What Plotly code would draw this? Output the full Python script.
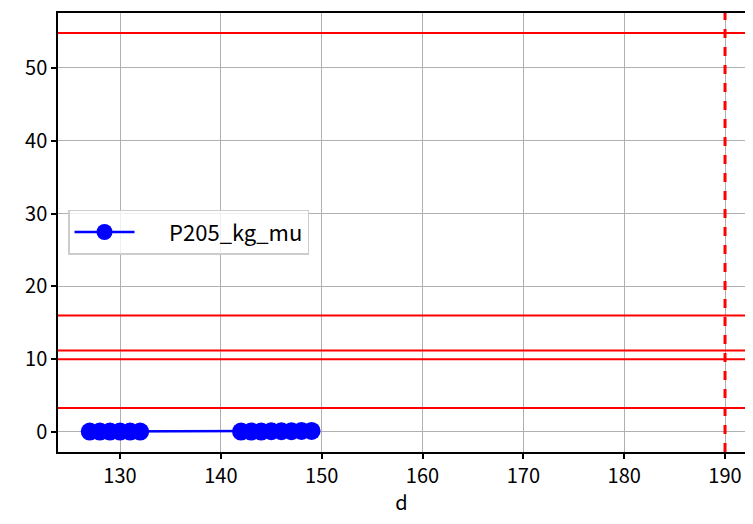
import plotly.graph_objects as go

d_values = [127, 128, 129, 130, 131, 132, 142, 143, 144, 145, 146, 147, 148, 149]
p205_values = [0.05, 0.05, 0.05, 0.05, 0.05, 0.05, 0.05, 0.05, 0.05, 0.1, 0.1, 0.1, 0.15, 0.15]
hlines = [54.8, 16.0, 11.2, 10.0, 3.3]
vline_x = [190]
x_ticks = [130, 140, 150, 160, 170, 180, 190]
y_ticks = [0, 10, 20, 30, 40, 50]

FONT = "Noto Sans CJK JP, DejaVu Sans, sans-serif"

fig = go.Figure()
fig.add_trace(go.Scatter(
    x=d_values, y=p205_values, mode="lines+markers", name="      P205_kg_mu",
    line=dict(color="blue", width=2.5),
    marker=dict(color="blue", size=18, line=dict(width=0)),
))

for h in hlines:
    fig.add_hline(y=h, line=dict(color="red", width=2))
for v in vline_x:
    fig.add_vline(x=v, line=dict(color="red", width=3, dash="dash"))

axis_common = dict(
    showline=True, linecolor="black", linewidth=1.5,
    ticks="outside", ticklen=5, tickwidth=1.5, tickcolor="black",
    showgrid=True, gridcolor="#b0b0b0", gridwidth=1.3, zeroline=False,
    tickfont=dict(family=FONT, size=20, color="black"),
)

fig.update_layout(
    width=737, height=508,
    margin=dict(l=50, r=0, t=5, b=64, autoexpand=False),
    paper_bgcolor="white", plot_bgcolor="white",
    font=dict(family=FONT, color="black"),
    xaxis=dict(range=[123.85, 191.98], tickvals=x_ticks, mirror=True,
               title=dict(text="d", font=dict(family=FONT, size=20), standoff=19),
               **axis_common),
    yaxis=dict(range=[-2.75, 57.55], tickvals=y_ticks, mirror=False, **axis_common),
    showlegend=True,
    legend=dict(x=0.0146, y=0.552, xanchor="left", yanchor="top",
                bgcolor="rgba(255,255,255,0.8)", bordercolor="#cccccc", borderwidth=1.5,
                font=dict(family=FONT, size=22, color="black"),
                itemwidth=60),
)

fig.write_html("out.html")
